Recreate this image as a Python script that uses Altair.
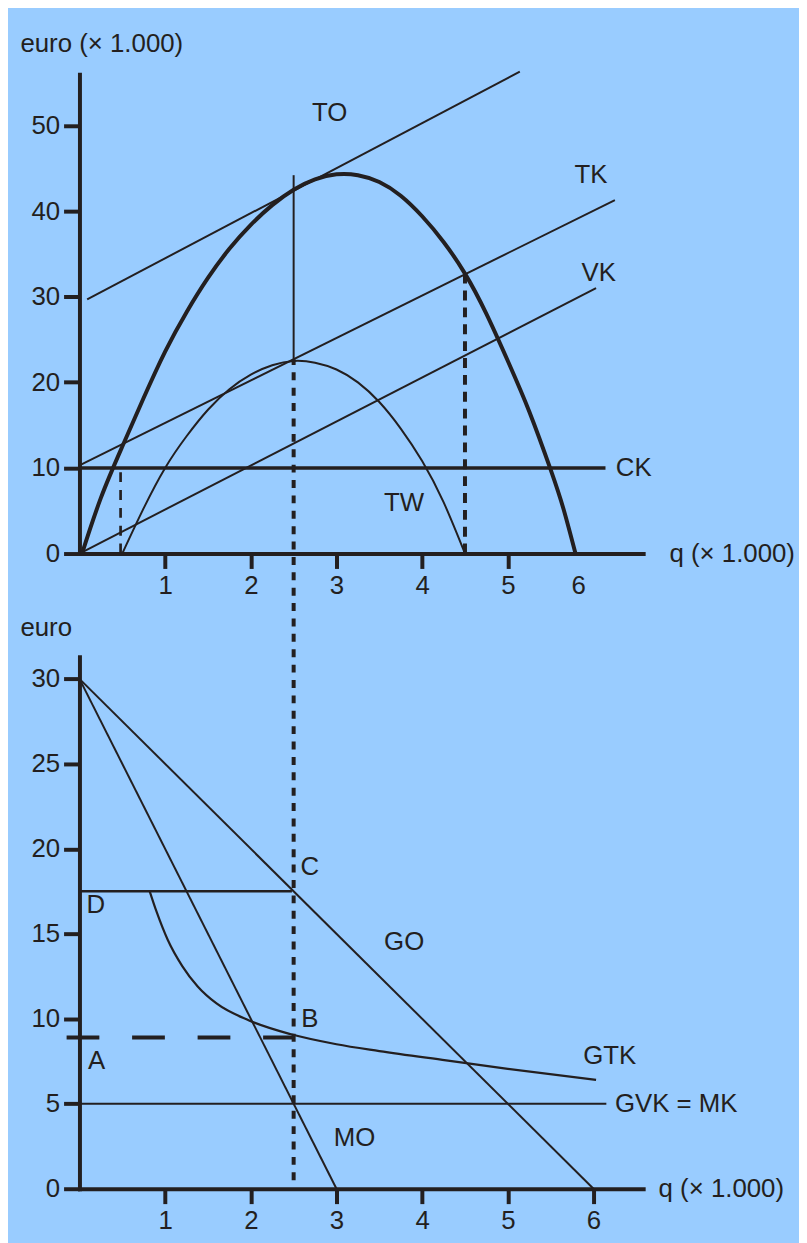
import altair as alt
import pandas as pd

INK = "#231F20"
BG = "#99CCFF"
FONT = "Liberation Sans"

# ---------------- top panel (euro x 1.000) ----------------
to_q = [0.03, 0.25, 0.5, 0.75, 1.0, 1.25, 1.5, 1.75, 2.0, 2.25, 2.5, 2.75, 3.0, 3.25, 3.5,
        3.75, 4.0, 4.25, 4.5, 4.75, 5.0, 5.25, 5.5, 5.65, 5.79]
to_v = [0, 6.5, 12.5, 18.2, 23.6, 28.2, 32.2, 35.6, 38.4, 40.7, 42.5, 43.7, 44.3, 44.2, 43.4,
        41.8, 39.4, 36.4, 32.7, 28.0, 22.5, 16.6, 9.8, 5.2, 0]

tw_q = [0.5, 0.75, 1.0, 1.25, 1.5, 1.75, 2.0, 2.25, 2.5, 2.75, 3.0, 3.25, 3.5, 3.75, 4.0, 4.25, 4.5]
tw_v = [0, 5.3, 10.0, 13.7, 16.8, 19.2, 20.9, 22.0, 22.5, 22.3, 21.5, 20.0, 17.7, 14.6, 10.8, 6.0, 0]

tangent_q = [0.09, 5.14]
tangent_v = [29.7, 56.3]
tk_q = [0, 6.25]
tk_v = [10.3, 41.3]
vk_q = [0, 6.03]
vk_v = [0, 31.0]
ck_q = [0, 6.14]
ck_v = [10, 10]

# vertical guide lines in top panel: q, from, to
solid_v = {"q": [2.5], "y1": [22.7], "y2": [44.2]}
dot_small = {"q": [0.48], "y1": [0], "y2": [10.4]}
dot_big = {"q": [4.5], "y1": [0], "y2": [32.8]}

top_labels_c = ["TO", "TK", "VK", "TW"]
top_labels_c_q = [2.92, 5.97, 6.06, 3.79]
top_labels_c_v = [51.4, 44.2, 32.8, 5.9]
top_labels_l = ["CK"]
top_labels_l_q = [6.26]
top_labels_l_v = [10.0]

# ---------------- bottom panel (euro) ----------------
go_q = [0, 6]
go_v = [30, 0]
mo_q = [0, 3]
mo_v = [30, 0]
gvk_q = [0, 6.15]
gvk_v = [5, 5]
d_q = [0, 2.48]
d_v = [17.5, 17.5]
a_q = [-0.15, 2.5]
a_v = [8.9, 8.9]
gtk_q = [0.82, 0.9, 1.03, 1.2, 1.38, 1.6, 1.98, 2.46, 3.0, 3.5, 4.28, 5.0, 6.03]
gtk_v = [17.5, 16.3, 14.65, 13.1, 11.9, 10.9, 9.9, 9.1, 8.5, 8.1, 7.55, 7.05, 6.4]

long_dot = {"q": [2.5], "y1": [0.5], "y2": [48.8]}

bot_labels_c = ["C", "D", "GO", "B", "A", "GTK", "MO"]
bot_labels_c_q = [2.69, 0.19, 3.79, 2.69, 0.2, 6.19, 3.21]
bot_labels_c_v = [18.9, 16.7, 14.5, 10.0, 7.5, 7.8, 3.0]
bot_labels_l = ["GVK = MK"]
bot_labels_l_q = [6.25]
bot_labels_l_v = [5.0]

X_DOMAIN = [0, 6.58]
TOP_Y = [0, 56]
BOT_Y = [0, 31.3]
W = 568
FS = 26

axis_common = dict(
    domainColor=INK, domainWidth=4, domainCap="square",
    tickColor=INK, tickWidth=4, labelColor=INK, labelFont=FONT, labelFontSize=FS,
    titleFont=FONT, titleFontSize=FS, titleFontWeight="normal", titleColor=INK,
    grid=False, titleAngle=0, titleAlign="left", titleBaseline="middle",
)

top_x_axis = alt.Axis(
    values=[1, 2, 3, 4, 5, 5.82],
    labelExpr="datum.value > 5.5 ? '6' : datum.label",
    tickOpacity={"condition": {"test": "datum.value > 5.5", "value": 0}, "value": 1},
    tickSize=15, labelPadding=4, title="q (× 1.000)", titleX=594, titleY=0,
    **axis_common,
)
top_y_axis = alt.Axis(
    values=[0, 10, 20, 30, 40, 50], tickSize=16, labelPadding=4,
    title="euro (× 1.000)", titleX=-60, titleY=-31, **axis_common,
)
bot_x_axis = alt.Axis(
    values=[1, 2, 3, 4, 5, 6], tickSize=15, labelPadding=4,
    title="q (× 1.000)", titleX=583, titleY=0, **axis_common,
)
bot_y_axis = alt.Axis(
    values=[0, 5, 10, 15, 20, 25, 30], tickSize=16, labelPadding=4,
    title="euro", titleX=-60, titleY=-29, **axis_common,
)

PANELS = {
    "top": (TOP_Y, top_x_axis, top_y_axis),
    "bot": (BOT_Y, bot_x_axis, bot_y_axis),
}


def df(q, v):
    return pd.DataFrame({"q": q, "v": v})


def enc(panel):
    domain, xa, ya = PANELS[panel]
    x = alt.X("q:Q", scale=alt.Scale(domain=X_DOMAIN, nice=False, zero=False), axis=xa)
    y = alt.Y("v:Q", scale=alt.Scale(domain=domain, nice=False, zero=False), axis=ya)
    return x, y


def line(q, v, panel, width, dash=None, interp="linear"):
    kw = dict(color=INK, strokeWidth=width, clip=False, interpolate=interp, strokeCap="butt")
    if dash:
        kw["strokeDash"] = dash
    x, y = enc(panel)
    return alt.Chart(df(q, v)).mark_line(**kw).encode(x=x, y=y, order="q:Q")


def vrule(d, panel, width, dash=None):
    kw = dict(color=INK, strokeWidth=width, clip=False, strokeCap="butt")
    if dash:
        kw["strokeDash"] = dash
    data = pd.DataFrame({"q": d["q"], "v": d["y1"], "v2": d["y2"]})
    x, y = enc(panel)
    return alt.Chart(data).mark_rule(**kw).encode(x=x, y=y, y2="v2:Q")


def texts(labels, q, v, panel, align):
    data = pd.DataFrame({"q": q, "v": v, "t": labels})
    x, y = enc(panel)
    return alt.Chart(data).mark_text(
        font=FONT, fontSize=FS, color=INK, align=align, baseline="middle", clip=False
    ).encode(x=x, y=y, text="t:N")


top = alt.layer(
    line(tangent_q, tangent_v, "top", 2),
    line(tk_q, tk_v, "top", 2),
    line(vk_q, vk_v, "top", 2),
    line(ck_q, ck_v, "top", 3.5),
    line(tw_q, tw_v, "top", 2, interp="natural"),
    line(to_q, to_v, "top", 4, interp="natural"),
    vrule(solid_v, "top", 2),
    vrule(dot_small, "top", 2.7, [10, 8]),
    vrule(dot_big, "top", 4, [10, 7]),
    texts(top_labels_c, top_labels_c_q, top_labels_c_v, "top", "center"),
    texts(top_labels_l, top_labels_l_q, top_labels_l_v, "top", "left"),
).properties(width=W, height=483)

bottom = alt.layer(
    line(go_q, go_v, "bot", 2),
    line(mo_q, mo_v, "bot", 2),
    line(gvk_q, gvk_v, "bot", 2),
    line(d_q, d_v, "bot", 2.5),
    line(a_q, a_v, "bot", 4, [33, 33]),
    line(gtk_q, gtk_v, "bot", 2.2, interp="monotone"),
    vrule(long_dot, "bot", 4, [8, 7.5]),
    texts(bot_labels_c, bot_labels_c_q, bot_labels_c_v, "bot", "center"),
    texts(bot_labels_l, bot_labels_l_q, bot_labels_l_v, "bot", "left"),
).properties(width=W, height=536)

chart = alt.vconcat(top, bottom, spacing=104, bounds="flush").properties(
    background=BG,
    padding={"left": 12, "top": 18, "right": 4, "bottom": 5},
).configure_view(stroke=None)

chart.save("out.html", embed_options={"renderer": "svg", "actions": False})
